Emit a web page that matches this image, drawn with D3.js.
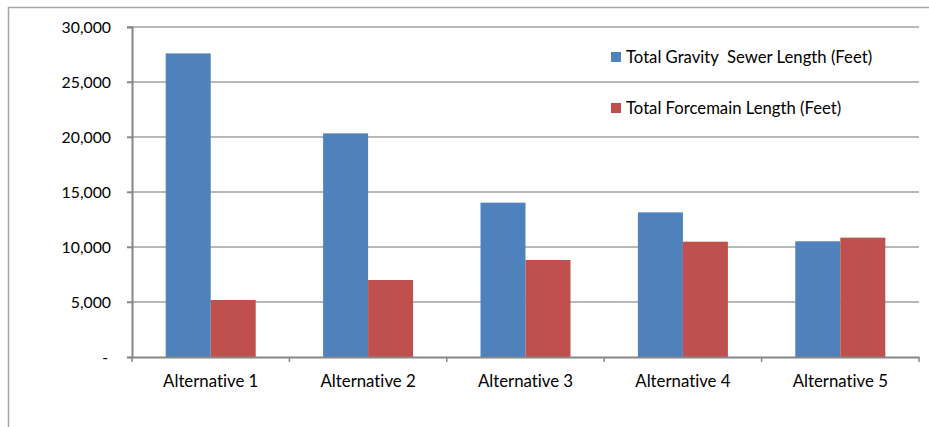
<!DOCTYPE html>
<html>
<head>
<meta charset="utf-8">
<script src="https://cdn.jsdelivr.net/npm/d3@7"></script>
<style>
  html, body { margin: 0; padding: 0; background: #fff; }
  svg { display: block; font-family: "Lato", "Open Sans", sans-serif; font-variant-ligatures: none; }
  text { font-variant-ligatures: none; font-feature-settings: "liga" 0, "clig" 0; }
</style>
</head>
<body>
<svg id="chart" width="929" height="427"></svg>
<script>
const categories = ["Alternative 1", "Alternative 2", "Alternative 3", "Alternative 4", "Alternative 5"];
const seriesNames = ["Total Gravity  Sewer Length (Feet)", "Total Forcemain Length (Feet)"];
const gravityValues = [27600, 20330, 14030, 13150, 10520];
const forcemainValues = [5180, 7000, 8820, 10480, 10850];
const yTicks = [0, 5000, 10000, 15000, 20000, 25000, 30000];
const colors = ["#4f81bd", "#c0504d"];

const svg = d3.select("#chart");
const W = 929, H = 427;

// outer frame (left & top visible)
svg.append("path")
  .attr("d", `M8.5,${H} L8.5,7.5 L${W},7.5`)
  .attr("fill", "none").attr("stroke", "#a6a6a6").attr("stroke-width", 1.5);

const plot = { left: 132, right: 919, top: 27, bottom: 357 };

const x = d3.scaleBand().domain(categories).range([plot.left, plot.right]).paddingInner(0).paddingOuter(0);
const y = d3.scaleLinear().domain([0, 30000]).range([plot.bottom, plot.top]);

// gridlines
svg.append("g").selectAll("line")
  .data(yTicks.filter(d => d > 0))
  .join("line")
  .attr("x1", plot.left - 5).attr("x2", plot.right)
  .attr("y1", d => y(d)).attr("y2", d => y(d))
  .attr("stroke", "#a0a0a0").attr("stroke-width", 1.5);

// bars
const groups = categories.map((c, i) => ({ c, vals: [gravityValues[i], forcemainValues[i]] }));
const barW = 45;
const groupOffset = (x.bandwidth() - 2 * barW) / 2;
svg.append("g").selectAll("g")
  .data(groups)
  .join("g")
  .attr("transform", d => `translate(${x(d.c) + groupOffset},0)`)
  .selectAll("rect")
  .data(d => d.vals.map((v, j) => ({ v, j })))
  .join("rect")
  .attr("x", d => d.j * barW)
  .attr("width", barW)
  .attr("y", d => y(d.v))
  .attr("height", d => y(0) - y(d.v))
  .attr("fill", d => colors[d.j]);

// y axis
const yAxis = d3.axisLeft(y).tickValues(yTicks).tickSize(5).tickPadding(16)
  .tickFormat(d => d === 0 ? "-" : d3.format(",")(d));
const gy = svg.append("g").attr("transform", `translate(${plot.left},0)`).call(yAxis);
gy.select(".domain").attr("stroke", "#868686").attr("stroke-width", 2);
gy.selectAll(".tick line").attr("stroke", "#868686").attr("stroke-width", 1.5);
gy.selectAll(".tick text").attr("font-size", 15.8).attr("fill", "#000").attr("font-family", "Lato, sans-serif");
gy.selectAll(".tick text").filter(d => d === 0).attr("dx", -3);

// x axis
const xAxis = d3.axisBottom(x).tickSize(0).tickPadding(18);
const gx = svg.append("g").attr("transform", `translate(0,${plot.bottom})`).call(xAxis);
gx.select(".domain").attr("stroke", "#868686").attr("stroke-width", 2);
gx.selectAll(".tick text").attr("font-size", 16.8).attr("fill", "#000").attr("font-family", "Lato, sans-serif");
// category boundary ticks
const bounds = categories.map(c => x(c)).concat([plot.right]);
gx.append("g").selectAll("line").data(bounds).join("line")
  .attr("x1", d => d).attr("x2", d => d).attr("y1", 0).attr("y2", 5)
  .attr("stroke", "#868686").attr("stroke-width", 1.5);

// legend
const legend = svg.append("g");
const legendY = [57, 108];
seriesNames.forEach((name, i) => {
  legend.append("rect").attr("x", 611).attr("y", legendY[i] - 5).attr("width", 10).attr("height", 10).attr("fill", colors[i]);
  legend.append("text").attr("x", 626).attr("y", legendY[i] + 6)
    .attr("font-size", 16.7).attr("fill", "#000").attr("xml:space", "preserve")
    .style("white-space", "pre")
    .text(name);
});
</script>
</body>
</html>
